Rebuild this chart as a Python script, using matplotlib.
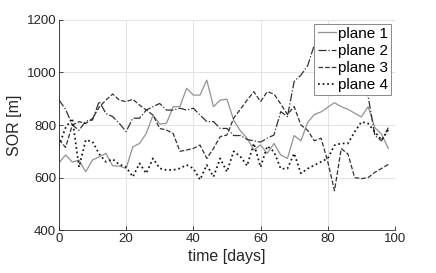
import numpy as np
import matplotlib
matplotlib.use("Agg")
import matplotlib.pyplot as plt

plt.rcParams['font.family'] = ['Liberation Sans', 'DejaVu Sans']

days = np.arange(0, 100, 2)

plane1 = [655, 686, 659, 667, 622, 667, 679, 692, 645, 644,
          635, 717, 730, 768, 838, 804, 806, 870, 870, 940,
          914, 914, 971, 870, 895, 898, 819, 778, 750, 705,
          724, 692, 730, 686, 673, 760, 740, 810, 840, 850,
          868, 885, 870, 860, 845, 831, 870, 790, 765, 711]
plane2 = [896, 860, 800, 780, 815, 819, 890, 844, 832, 806,
          775, 826, 826, 857, 870, 882, 857, 857, 864, 857,
          864, 838, 813, 813, 787, 787, 760, 760, 745, 740,
          735, 750, 762, 851, 832, 966, 990, 1025, 1105, 1050,
          1000, 980, 960, 950, 940, 930, 910, 760, 740, 790]
plane3 = [745, 715, 800, 813, 806, 825, 868, 895, 918, 895,
          889, 898, 876, 857, 838, 787, 781, 768, 700, 705,
          711, 724, 673, 711, 756, 762, 826, 860, 895, 927,
          889, 927, 918, 880, 840, 870, 800, 780, 740, 750,
          660, 550, 710, 690, 600, 596, 600, 620, 635, 650]
plane4 = [720, 790, 825, 640, 743, 737, 690, 660, 670, 650,
          640, 603, 654, 616, 673, 635, 629, 629, 635, 648,
          635, 592, 648, 603, 673, 622, 700, 680, 645, 730,
          640, 720, 698, 634, 634, 692, 616, 634, 647, 660,
          673, 723, 730, 730, 774, 812, 806, 774, 743, 781]

fig = plt.figure(figsize=(4.36, 2.73), dpi=100)
ax = fig.add_axes([0.135, 0.157, 0.771, 0.77])

ax.plot(days, plane1, '-', color='#939393', lw=0.9, label='plane 1')
ax.plot(days, plane2, '-.', color='#333333', lw=0.9, label='plane 2')
ax.plot(days, plane3, '--', color='#333333', lw=0.9, label='plane 3')
ax.plot(days, plane4, ':', color='#111111', lw=1.25, label='plane 4')

ax.set_xlim(0, 100)
ax.set_ylim(400, 1200)
ax.set_xticks([0, 20, 40, 60, 80, 100])
ax.set_yticks([400, 600, 800, 1000, 1200])
ax.grid(True, color='#e3e3e3', lw=0.7)
ax.set_axisbelow(True)
for s in ['top', 'right']:
    ax.spines[s].set_visible(False)
for s in ['left', 'bottom']:
    ax.spines[s].set_color('#262626')
    ax.spines[s].set_linewidth(0.6)
ax.tick_params(direction='in', length=3, width=0.6, colors='#262626', labelsize=9.5, pad=2)
ax.set_xlabel('time [days]', fontsize=11.5, color='#262626', labelpad=3)
ax.set_ylabel('SOR [m]', fontsize=11.5, color='#262626', labelpad=3)

leg = ax.legend(loc='upper right', fontsize=11, fancybox=False, framealpha=1,
                edgecolor='#8a8a8a', handlelength=1.2, handletextpad=0.15,
                labelspacing=0.2, borderpad=0.2, borderaxespad=0.25)
leg.get_frame().set_linewidth(0.7)

fig.savefig('out.png', dpi=100)
